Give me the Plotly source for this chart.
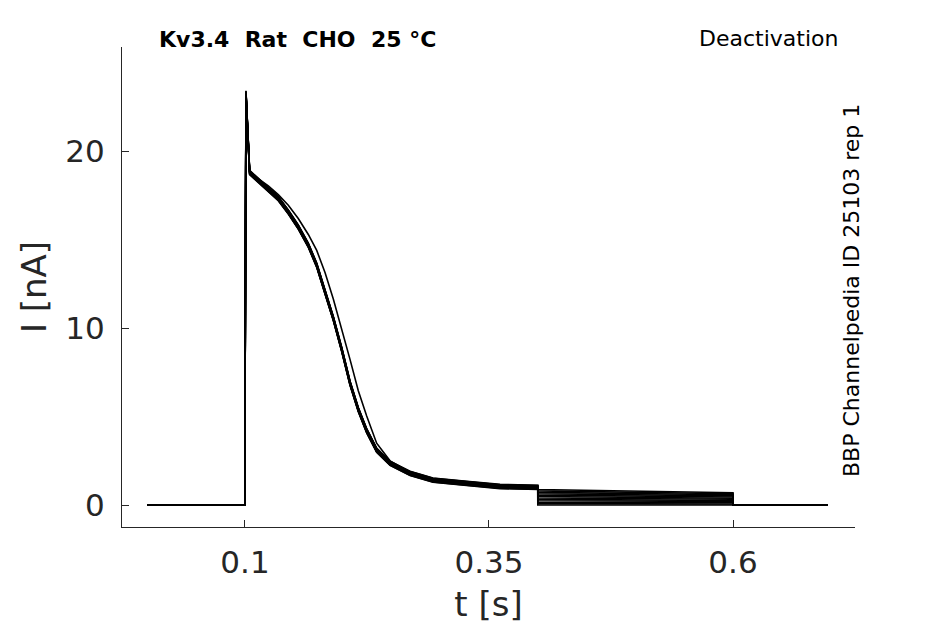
import plotly.graph_objects as go

# ---- data ----
T_BASE = [0.0, 0.1]
I_BASE = [0.0, 0.0]

T_ACT = [0.1, 0.1, 0.1010, 0.1048, 0.1137, 0.1239, 0.1341, 0.1444, 0.1546,
         0.1649, 0.1735, 0.1820, 0.1905, 0.1991, 0.2076, 0.2161, 0.2247,
         0.2349, 0.2486, 0.2691, 0.2926, 0.3271, 0.3613, 0.4]
I_ACT = [0.0, 4.1, 23.3, 18.8, 18.36, 17.89, 17.33, 16.57, 15.72,
         14.69, 13.56, 12.05, 10.55, 8.8, 6.9, 5.4, 4.2,
         3.1, 2.36, 1.79, 1.41, 1.23, 1.05, 1.0]
I_ACT_LATE = [0.0, 4.1, 23.2, 18.8, 18.45, 18.05, 17.55, 16.95, 16.2,
              15.3, 14.4, 13.15, 11.65, 10.0, 8.24, 6.46, 5.04,
              3.5, 2.5, 1.85, 1.44, 1.26, 1.08, 1.02]

SWEEP_OFFSET = [0.0, 0.08, -0.06, 0.12, -0.10, 0.04, -0.03, 0.10, -0.12, 0.06, 0.02, -0.08]
SWEEP_LATE = [1, 0, 0, 0, 0, 0, 0, 0, 0, 0, 0, 0]

T_DEACT = [0.4, 0.6]
DEACT_START = [0.88, 0.80, 0.72, 0.64, 0.56, 0.48, 0.40, 0.32, 0.24, 0.16, 0.08, 0.0]
DEACT_END = [0.70, 0.64, 0.58, 0.52, 0.46, 0.39, 0.33, 0.26, 0.20, 0.13, 0.06, 0.0]

T_POST = [0.6, 0.697]
I_POST = [0.0, 0.0]

X_TICKS = [0.1, 0.35, 0.6]
X_TICKTEXT = ["0.1", "0.35", "0.6"]
Y_TICKS = [0, 10, 20]

FONT = "DejaVu Sans"
INK = "#262626"

fig = go.Figure()
for k in range(len(DEACT_START)):
    base_act = I_ACT_LATE if SWEEP_LATE[k] else I_ACT
    act = [base_act[0]] + [v + SWEEP_OFFSET[k] for v in base_act[1:]]
    xs = T_BASE + T_ACT + T_DEACT + T_POST
    ys = I_BASE + act + [DEACT_START[k], DEACT_END[k]] + I_POST
    fig.add_trace(go.Scatter(x=xs, y=ys, mode="lines",
                             line=dict(color="black", width=1.6),
                             showlegend=False, hoverinfo="skip"))

fig.update_layout(
    width=945, height=624,
    margin=dict(l=114, r=98, t=39, b=105, autoexpand=False),
    paper_bgcolor="white", plot_bgcolor="white",
    font=dict(family=FONT, color=INK),
    xaxis=dict(range=[-0.026, 0.725], tickvals=X_TICKS, ticktext=X_TICKTEXT,
               showline=True, linecolor=INK, linewidth=1, ticks="inside",
               ticklen=7, tickcolor=INK, showgrid=False, zeroline=False,
               automargin=False,
               tickfont=dict(size=31, color=INK, family=FONT),
               ticklabelstandoff=8,
               title=dict(text="t [s]", font=dict(size=34, color=INK, family=FONT), standoff=12)),
    yaxis=dict(range=[-1.24, 25.9], tickvals=Y_TICKS,
               showline=True, linecolor=INK, linewidth=1, ticks="inside",
               ticklen=7, tickcolor=INK, showgrid=False, zeroline=False,
               automargin=False,
               tickfont=dict(size=31, color=INK, family=FONT),
               ticklabelstandoff=10,
               title=dict(text="I [nA]", font=dict(size=34, color=INK, family=FONT), standoff=8)),
    annotations=[
        dict(text="<b>Kv3.4  Rat  CHO  25 °C</b>", xref="paper", yref="paper",
             x=0.2394, y=1.0146, xanchor="center", yanchor="middle", showarrow=False,
             font=dict(size=22, color="black", family=FONT)),
        dict(text="Deactivation", xref="paper", yref="paper",
             x=0.9795, y=1.0167, xanchor="right", yanchor="middle", showarrow=False,
             font=dict(size=22, color="black", family=FONT)),
        dict(text="BBP Channelpedia ID 25103 rep 1", xref="paper", yref="paper",
             x=0.9959, y=0.4938, xanchor="center", yanchor="middle", showarrow=False,
             textangle=-90, font=dict(size=22, color="black", family=FONT)),
    ],
)

fig.write_html("out.html")
